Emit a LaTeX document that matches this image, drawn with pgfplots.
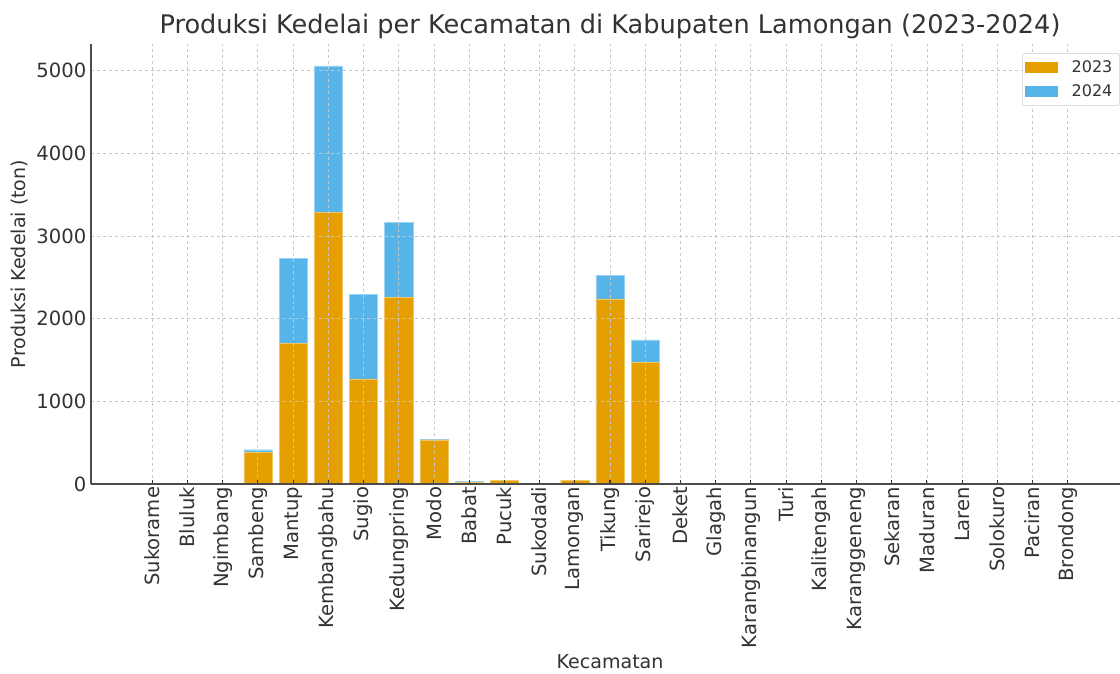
\documentclass[border=0pt]{standalone}
\usepackage{fontspec}
\setmainfont{DejaVu Sans}
\usepackage{pgfplots}
\usepackage{pgfplotstable}
\pgfplotsset{compat=1.18}
\definecolor{c2023}{HTML}{E69F00}
\definecolor{c2024}{HTML}{56B4E9}
\definecolor{txt}{HTML}{333333}
\pgfplotstableread{
idx y2023 y2024
0 0 0
1 0 0
2 0 0
3 387 28
4 1703 1029
5 3289 1771
6 1271 1025
7 2260 908
8 535 5
9 22 12
10 45 3
11 0 0
12 45 3
13 2240 282
14 1473 270
15 0 0
16 0 0
17 0 0
18 0 0
19 0 0
20 0 0
21 0 0
22 0 0
23 0 0
24 0 0
25 0 0
26 0 0
}\datatable
\begin{document}
\begin{tikzpicture}
\begin{axis}[
  scale only axis,
  width=778.5pt, height=330pt,
  ybar stacked,
  bar width=0.8,
  xmin=-1.74, xmax=27.74,
  ymin=0, ymax=5325,
  xtick={0,...,26},
  xticklabels={Sukorame,Bluluk,Ngimbang,Sambeng,Mantup,Kembangbahu,Sugio,Kedungpring,Modo,Babat,Pucuk,Sukodadi,Lamongan,Tikung,Sarirejo,Deket,Glagah,Karangbinangun,Turi,Kalitengah,Karanggeneng,Sekaran,Maduran,Laren,Solokuro,Paciran,Brondong},
  ytick={0,1000,2000,3000,4000,5000},
  x tick label style={rotate=90, anchor=east, font=\fontsize{14.7}{17}\selectfont, text=txt, inner sep=2pt},
  y tick label style={font=\fontsize{14.7}{17}\selectfont, text=txt},
  /pgf/number format/assume math mode=true,
  yticklabel style={/pgf/number format/1000 sep={}},
  scaled y ticks=false,
  axis x line*=bottom,
  axis y line*=left,
  axis line style={black!70, line width=1pt},
  tick align=inside,
  major tick length=3pt,
  tick style={black!80, line width=0.8pt},
  ytick style={draw=none},
  grid=major,
  major grid style={dashed, black!22, line width=0.6pt, dash pattern=on 2.5pt off 2pt},
  axis on top=true,
  title={Produksi Kedelai per Kecamatan di Kabupaten Lamongan (2023-2024)},
  title style={at={(axis description cs:0.5,1)}, anchor=base, yshift=1.7pt, font=\fontsize{19.2}{22}\selectfont, text=txt},
  xlabel={Kecamatan},
  xlabel style={at={(axis description cs:0.5,-0.4045)}, anchor=center, font=\fontsize{14.3}{17}\selectfont, text=txt},
  ylabel={Produksi Kedelai (ton)},
  ylabel style={at={(axis description cs:-0.0684,0.5)}, anchor=center, rotate=0, font=\fontsize{14.3}{17}\selectfont, text=txt},
  legend style={at={(axis description cs:1,1)}, anchor=north east, xshift=-6.75pt, yshift=-6.75pt, draw=black!20, fill=white, rounded corners=2pt, font=\fontsize{12}{14}\selectfont, text=txt, row sep=3.5pt, inner xsep=2pt, inner ysep=3.5pt, nodes={inner xsep=3.5pt}},
  legend cell align=left,
]
\addplot[fill=c2023, draw=c2023!60!white, line width=0.3pt, legend image code/.code={\fill[c2023, draw=none, sharp corners] (0pt,-4.1pt) rectangle (24.75pt,4.1pt); \path[draw=none, fill=none] (0pt,0pt) -- (31.5pt,0pt);}] table[x=idx, y=y2023] {\datatable};
\addplot[fill=c2024, draw=c2024!60!white, line width=0.3pt, legend image code/.code={\fill[c2024, draw=none, sharp corners] (0pt,-4.1pt) rectangle (24.75pt,4.1pt); \path[draw=none, fill=none] (0pt,0pt) -- (31.5pt,0pt);}] table[x=idx, y=y2024] {\datatable};
\legend{2023,2024}
\coordinate (bl) at (rel axis cs:0,0);
\coordinate (tr) at (rel axis cs:1,1);
\end{axis}
\pgfresetboundingbox
\path[use as bounding box] ([shift={(-68.25pt,-141.75pt)}]bl) rectangle ([shift={(-6.75pt,33pt)}]tr);
\end{tikzpicture}
\end{document}
